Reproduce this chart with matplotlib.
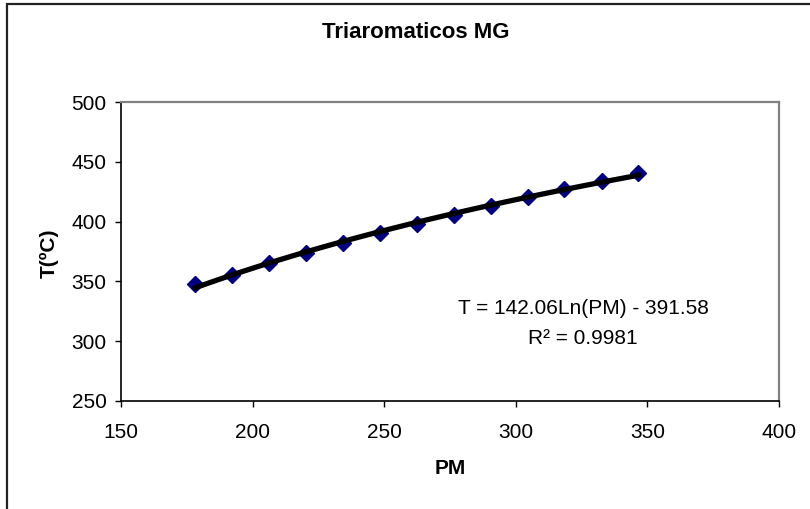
import numpy as np
import matplotlib.pyplot as plt
from matplotlib.patches import Rectangle

plt.rcParams['font.family'] = ['Liberation Sans', 'DejaVu Sans']

# datos
pm = [178.2, 192.3, 206.3, 220.3, 234.3, 248.4, 262.4, 276.4, 290.5, 304.5, 318.5, 332.6, 346.6]
temp = [347.8, 355.4, 365.1, 374.0, 381.9, 390.7, 398.0, 405.5, 413.0, 420.3, 427.3, 434.0, 441.0]
x_ticks = [150, 200, 250, 300, 350, 400]
y_ticks = [250, 300, 350, 400, 450, 500]

W, H = 810, 509
fig = plt.figure(figsize=(W / 100, H / 100), dpi=100)

# borde del grafico (cortado a la derecha y abajo)
fig.patches.append(Rectangle((6.5 / W, -0.2), 1.5, 1.2 - 4 / H, transform=fig.transFigure,
                             fill=False, edgecolor='#222222', lw=1.6))

ax = fig.add_axes([121 / W, (H - 401) / H, 658 / W, 299 / H])

# linea de tendencia logaritmica
a, b = np.polyfit(np.log(pm), temp, 1)
xs = np.linspace(min(pm), max(pm), 100)
ax.plot(pm, temp, linestyle='none', marker='D', markersize=8.5, color='#000080', zorder=2)
ax.plot(xs, a * np.log(xs) + b, color='black', lw=3.8, zorder=3)

ax.set_xlim(150, 400)
ax.set_ylim(250, 500)
ax.set_xticks(x_ticks)
ax.set_yticks(y_ticks)
ax.tick_params(direction='out', length=4.5, width=1, labelsize=15, colors='black')
ax.tick_params(axis='x', pad=11)
ax.tick_params(axis='y', pad=6)

for s in ['top', 'right']:
    ax.spines[s].set_color('#808080')
    ax.spines[s].set_linewidth(1.6)
for s in ['left', 'bottom']:
    ax.spines[s].set_color('black')
    ax.spines[s].set_linewidth(1.2)

fig.text(583 / W, (H - 309) / H, 'T = 142.06Ln(PM) - 391.58', ha='center', va='center',
         fontsize=15)
fig.text(583 / W, (H - 338) / H, 'R² = 0.9981', ha='center', va='center', fontsize=15)

fig.text(416 / W, (H - 33) / H, 'Triaromaticos MG', ha='center', va='center',
         fontsize=16, fontweight='bold')
fig.text(450 / W, (H - 469) / H, 'PM', ha='center', va='center', fontsize=15, fontweight='bold')
fig.text(49 / W, (H - 253) / H, 'T(ºC)', ha='center', va='center', rotation=90,
         fontsize=15, fontweight='bold')

fig.savefig('out.png', dpi=100)
